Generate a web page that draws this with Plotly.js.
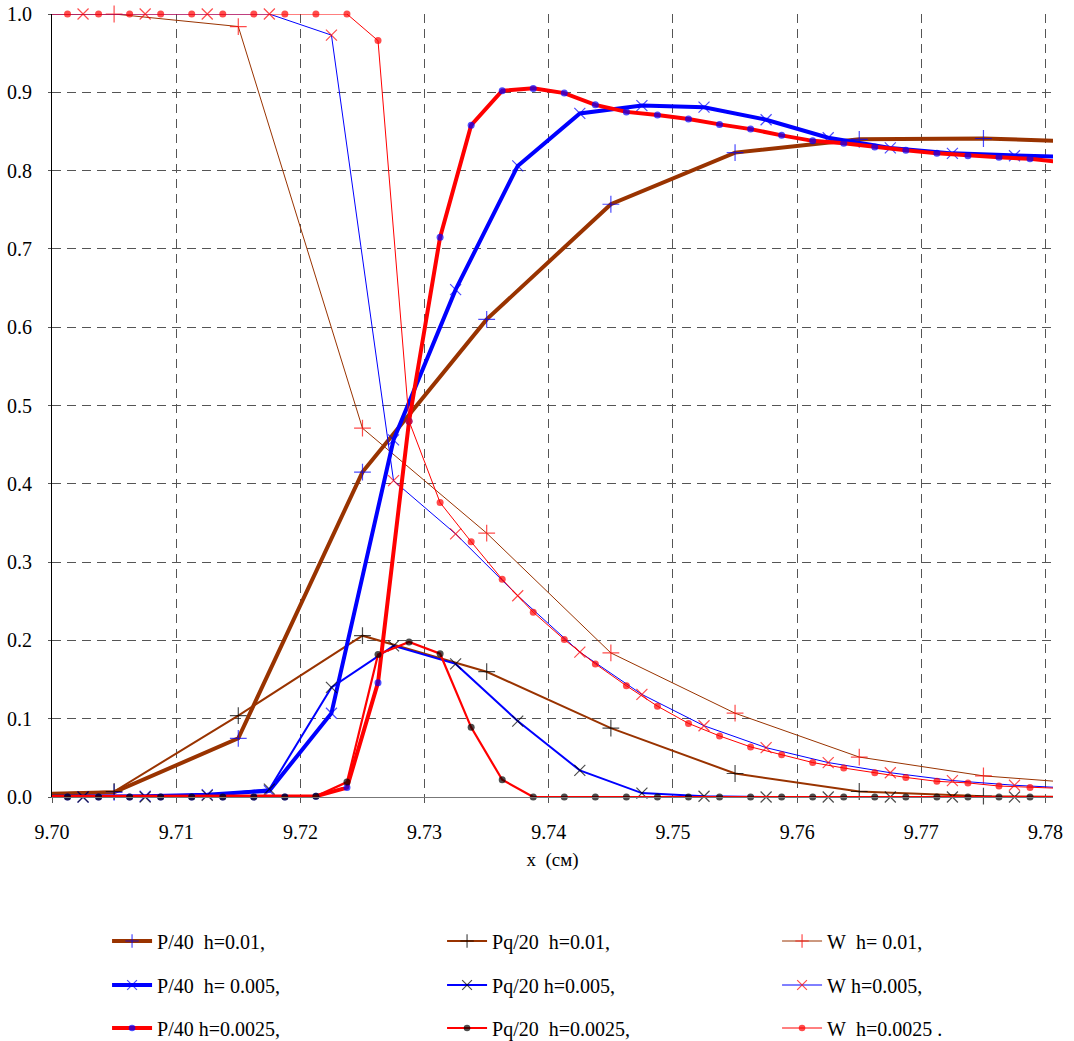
<!DOCTYPE html>
<html>
<head>
<meta charset="utf-8">
<script src="https://cdn.plot.ly/plotly-3.0.1.min.js"></script>
<style>html,body{margin:0;padding:0;background:#fff}#chart{width:1074px;height:1041px}</style>
</head>
<body>
<div id="chart"></div>
<script>
// ---- data ----
const x_h1 = [9.695, 9.705, 9.715, 9.725, 9.735, 9.745, 9.755, 9.765, 9.775, 9.785];
const P40_h1  = [0.002, 0.006, 0.075, 0.415, 0.610, 0.757, 0.823, 0.840, 0.841, 0.836];
const Pq20_h1 = [0.002, 0.007, 0.104, 0.206, 0.160, 0.088, 0.030, 0.007, 0.001, 0.000];
const W_h1    = [1.000, 1.000, 0.984, 0.471, 0.337, 0.184, 0.107, 0.051, 0.027, 0.015];

const x_h2 = [9.6975, 9.7025, 9.7075, 9.7125, 9.7175, 9.7225, 9.7275, 9.7325, 9.7375,
              9.7425, 9.7475, 9.7525, 9.7575, 9.7625, 9.7675, 9.7725, 9.7775, 9.7825];
const P40_h2  = [0.000, 0.000, 0.001, 0.003, 0.008, 0.107, 0.456, 0.648, 0.806,
                 0.873, 0.883, 0.881, 0.865, 0.842, 0.829, 0.822, 0.819, 0.817];
const Pq20_h2 = [0.000, 0.000, 0.000, 0.002, 0.010, 0.140, 0.193, 0.170, 0.097,
                 0.034, 0.005, 0.001, 0.000, 0.000, 0.000, 0.000, 0.000, 0.000];
const W_h2    = [1.000, 1.000, 1.000, 1.000, 1.000, 0.973, 0.404, 0.336, 0.257,
                 0.185, 0.131, 0.091, 0.063, 0.044, 0.031, 0.021, 0.015, 0.011];

const x_h3 = [9.69875, 9.70125, 9.70375, 9.70625, 9.70875, 9.71125, 9.71375, 9.71625, 9.71875,
              9.72125, 9.72375, 9.72625, 9.72875, 9.73125, 9.73375, 9.73625, 9.73875, 9.74125,
              9.74375, 9.74625, 9.74875, 9.75125, 9.75375, 9.75625, 9.75875, 9.76125, 9.76375,
              9.76625, 9.76875, 9.77125, 9.77375, 9.77625, 9.77875, 9.78125];
const P40_h3  = [0, 0, 0, 0, 0, 0, 0, 0, 0,
                 0.001, 0.012, 0.146, 0.480, 0.715, 0.858, 0.902, 0.905, 0.899,
                 0.884, 0.875, 0.871, 0.866, 0.859, 0.853, 0.845, 0.838, 0.835,
                 0.830, 0.826, 0.822, 0.819, 0.817, 0.815, 0.811];
const Pq20_h3 = [0, 0, 0, 0, 0, 0, 0, 0, 0,
                 0.001, 0.019, 0.182, 0.198, 0.183, 0.089, 0.022, 0, 0,
                 0, 0, 0, 0, 0, 0, 0, 0, 0,
                 0, 0, 0, 0, 0, 0, 0];
const W_h3    = [1, 1, 1, 1, 1, 1, 1, 1, 1,
                 1, 1, 0.966, 0.480, 0.376, 0.326, 0.278, 0.236, 0.201,
                 0.170, 0.142, 0.116, 0.094, 0.078, 0.064, 0.054, 0.044, 0.037,
                 0.031, 0.025, 0.020, 0.018, 0.014, 0.012, 0.011];

const names = [
  ["P/40\u00a0\u00a0h=0.01,", "Pq/20\u00a0\u00a0h=0.01,", "W\u00a0\u00a0h=\u00a00.01,"],
  ["P/40\u00a0\u00a0h=\u00a00.005,", "Pq/20\u00a0h=0.005,", "W\u00a0h=0.005,"],
  ["P/40\u00a0h=0.0025,", "Pq/20\u00a0\u00a0h=0.0025,", "W\u00a0\u00a0h=0.0025\u00a0."]
];
const xTicks = [9.70, 9.71, 9.72, 9.73, 9.74, 9.75, 9.76, 9.77, 9.78];

// ---- styling ----
const BROWN = '#993300', BLUE = '#0000ff', RED = '#ff0000', BLACK = '#000000';
const X_RANGE = [9.70, 9.7806];
const FONT = 'Liberation Serif';
const sizes = (xs, s) => xs.map(v => (v < X_RANGE[0] - 1e-9 || v > X_RANGE[1]) ? 0 : s);

function tr(xs, ys, name, lineColor, lineWidth, symbol, mColor, mSize, legendId, lw) {
  const thin = symbol.indexOf('thin') >= 0;
  const t = {
    type: 'scatter', mode: 'lines+markers', x: xs, y: ys, name: name,
    line: {color: lineColor, width: lineWidth},
    marker: {symbol: symbol, color: mColor, size: sizes(xs, mSize),
             line: {color: mColor, width: thin ? 1.2 : 0}},
    cliponaxis: false, legend: legendId, hoverinfo: 'skip'
  };
  if (lw) t.legendwidth = lw;
  return t;
}

const data = [
  tr(x_h1, P40_h1,  names[0][0], BROWN, 4,   'cross-thin', BLUE,  12, 'legend'),
  tr(x_h1, Pq20_h1, names[0][1], BROWN, 2,   'cross-thin', BLACK, 12, 'legend'),
  tr(x_h1, W_h1,    names[0][2], BROWN, 1,   'cross-thin', RED,   12, 'legend', 160),
  tr(x_h2, P40_h2,  names[1][0], BLUE,  4,   'x-thin',     BLUE,  11, 'legend2'),
  tr(x_h2, Pq20_h2, names[1][1], BLUE,  2,   'x-thin',     BLACK, 11, 'legend2'),
  tr(x_h2, W_h2,    names[1][2], BLUE,  1,   'x-thin',     RED,   11, 'legend2', 160),
  tr(x_h3, P40_h3,  names[2][0], RED,   4,   'circle',     BLUE,  7,  'legend3'),
  tr(x_h3, Pq20_h3, names[2][1], RED,   2.2, 'circle',     BLACK, 7,  'legend3'),
  tr(x_h3, W_h3,    names[2][2], RED,   1,   'circle',     RED,   7,  'legend3', 160)
];

function legendAt(yc) {
  return {
    orientation: 'h', xref: 'paper', yref: 'container', x: 0.055, y: yc,
    xanchor: 'left', yanchor: 'middle', entrywidth: 280, entrywidthmode: 'pixels',
    itemwidth: 40, bgcolor: 'rgba(0,0,0,0)', borderwidth: 0,
    font: {family: FONT, size: 20, color: BLACK}, traceorder: 'normal'
  };
}

const grid = {showgrid: true, gridcolor: '#555555', gridwidth: 1, griddash: '9px,6px'};

const layout = {
  width: 1074, height: 1041,
  margin: {l: 52, r: 21, t: 14, b: 244},
  paper_bgcolor: '#ffffff', plot_bgcolor: '#ffffff',
  font: {family: FONT, size: 20, color: BLACK},
  showlegend: true,
  legend:  legendAt(1 - 941 / 1041),
  legend2: legendAt(1 - 985 / 1041),
  legend3: legendAt(1 - 1028 / 1041),
  xaxis: Object.assign({
    range: X_RANGE, tickmode: 'array', tickvals: xTicks,
    ticktext: xTicks.map(v => v.toFixed(2)),
    zeroline: false, showline: true, linecolor: '#777777', linewidth: 1,
    ticks: 'outside', ticklen: 5, tickcolor: '#555555',
    tickfont: {family: FONT, size: 20, color: BLACK}, ticklabelstandoff: 12,
    title: {text: 'x\u00a0\u00a0(см)', font: {family: FONT, size: 19, color: BLACK}, standoff: 10},
    automargin: false
  }, grid),
  yaxis: Object.assign({
    range: [0, 1], dtick: 0.1, tick0: 0, tickformat: '.1f',
    zeroline: false, showline: true, linecolor: BLACK, linewidth: 1,
    ticks: 'outside', ticklen: 3, tickcolor: '#555555',
    tickfont: {family: FONT, size: 20, color: BLACK}, ticklabelstandoff: 12,
    automargin: false
  }, grid)
};

Plotly.newPlot('chart', data, layout, {displayModeBar: false});
</script>
</body>
</html>
